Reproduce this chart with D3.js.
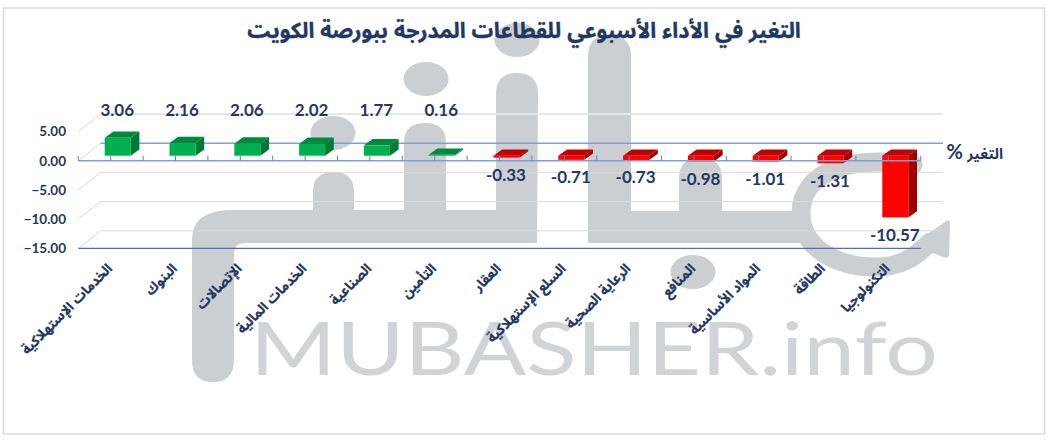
<!DOCTYPE html>
<html lang="ar">
<head>
<meta charset="utf-8">
<script src="https://cdn.jsdelivr.net/npm/d3@7"></script>
<style>
html,body{margin:0;padding:0;background:#fff;overflow:hidden}
svg{display:block}
</style>
</head>
<body>
<svg id="c" width="1050" height="444"></svg>
<script>
const titleText = "التغير في الأداء الأسبوعي للقطاعات المدرجة ببورصة الكويت";
const axisTitle = "التغير";
const categories = ["الخدمات الإستهلاكية","البنوك","الإتصالات","الخدمات المالية","الصناعية","التأمين","العقار","السلع الإستهلاكية","الرعاية الصحية","المنافع","المواد الأساسية","الطاقة","التكنولوجيا"];
const values = [3.06,2.16,2.06,2.02,1.77,0.16,-0.33,-0.71,-0.73,-0.98,-1.01,-1.31,-10.57];
const yTicks = [5,0,-5,-10,-15];

const navy = "#1F3864", arabic = "'Liberation Sans','Noto Sans Arabic','DejaVu Sans',sans-serif", latin = "Lato,'Open Sans',sans-serif";
const svg = d3.select("#c");
const x = d3.scaleBand().domain(categories).range([78.3,920.7]);
const y = d3.scaleLinear().domain([-15,5]).range([248.3,131.5]);
const wallDx = 22.4, wallDy = -17.5, barDx = 8.7, barDy = -6.3, barLift = 5, barInset = 26.4, barW = 26;

// watermark
const wm = svg.append("g").attr("fill","#CBCFD2");
wm.append("path").attr("d",
 "M192,360 L192,240 Q192,210 232,210 L313,210 L313,192 Q313,172 334,172 Q354,172 354,192 L354,210 L404,210 L404,143 Q404,123 425,123 Q446,123 446,143 L446,210 L496,210 L496,94 Q496,73 517,73 Q538,73 538,94 L537,243 L245,243 Q234,243 234,254 L234,360 Q234,382 213,382 Q192,382 192,360 Z");
wm.append("path").attr("d",
 "M588,243 L588,56 Q588,35 609,35 Q631,35 631,56 L631,211 L679,211 L679,178 Q679,158 700,158 Q722,158 722,178 L722,211 L800,211 L820,243 Z");
[[426,79],[517,40],[333,133],[693,272]].forEach(d=>wm.append("ellipse").attr("cx",d[0]).attr("cy",d[1]).attr("rx",22.5).attr("ry",17));
wm.append("path").attr("fill","none").attr("stroke","#CBCFD2").attr("stroke-width",19).attr("stroke-linecap","round")
 .attr("d","M913,165 C850,155 801,172 801,213 C801,250 840,267 875,267 C900,267 915,258 930,242");
wm.append("path").attr("d","M948,220 Q950,220 950,225 L949,255 Q948,259 943,257 L912,245 Q930,232 948,220 Z");
wm.append("text").attr("x",250).attr("y",375).attr("font-family",latin).attr("font-size",74).attr("fill","#D0D4D7")
 .attr("textLength",688).attr("lengthAdjust","spacingAndGlyphs").attr("direction","ltr").attr("unicode-bidi","bidi-override").text("MUBASHER.info");

// frame
svg.append("rect").attr("x",3.5).attr("y",8).attr("width",1041).attr("height",426).attr("fill","none").attr("stroke","#d9d9d9").attr("stroke-width",1.5);

// walls and gridlines
const x0 = x.range()[0], x1 = x.range()[1];
const grid = svg.append("g");
yTicks.forEach(t=>{
  const py = y(t);
  grid.append("line").attr("x1",x0).attr("y1",py).attr("x2",x0+wallDx).attr("y2",py+wallDy).attr("stroke","#d9d9d9").attr("stroke-width",1);
  grid.append("line").attr("x1",x0+wallDx).attr("y1",py+wallDy).attr("x2",x1+wallDx).attr("y2",py+wallDy)
    .attr("stroke",t===0?"#7f9fdb":t===5?"#e7e7e7":"#d9d9d9").attr("stroke-width",t===5?2:t===0?1.5:1);
});

// bars
const col = v=>v>=0?{f:"#00B050",t:"#008A3C",s:"#007A35"}:{f:"#FF0000",t:"#C00000",s:"#A00000"};
const bars = svg.append("g").selectAll("g").data(categories.map((c,i)=>({c,v:values[i]}))).join("g");
const bx = d=>x(d.c)+barInset, hiY = d=>y(Math.max(d.v,0))-barLift, loY = d=>y(Math.min(d.v,0))-barLift;
bars.append("path").attr("fill",d=>col(d.v).t).attr("d",d=>{
  const a=bx(d),t=hiY(d);return `M${a},${t}L${a+barDx},${t+barDy}L${a+barW+barDx},${t+barDy}L${a+barW},${t}Z`;});
bars.append("path").attr("fill",d=>col(d.v).s).attr("d",d=>{
  const a=bx(d)+barW,t=hiY(d),b=loY(d);return `M${a},${t}L${a+barDx},${t+barDy}L${a+barDx},${b+barDy}L${a},${b}Z`;});
bars.append("rect").attr("fill",d=>col(d.v).f).attr("x",bx).attr("y",hiY).attr("width",barW).attr("height",d=>loY(d)-hiY(d));

// category axis line and ticks
const ax = svg.append("g");
ax.append("line").attr("x1",x0).attr("x2",x1).attr("y1",y(0)).attr("y2",y(0)).attr("stroke","#7f9fdb").attr("stroke-width",1.6);
ax.append("line").attr("x1",x0).attr("x2",x1).attr("y1",y(-15)).attr("y2",y(-15)).attr("stroke","#4472C4").attr("stroke-width",1.3);
const tickPos = [x0].concat(categories.flatMap(c=>[x(c)+x.bandwidth()/2,x(c)+x.bandwidth()]));
ax.selectAll("line.t").data(tickPos).join("line").attr("class","t").attr("x1",d=>d).attr("x2",d=>d)
  .attr("y1",y(0)).attr("y2",y(0)-5).attr("stroke","#5b82cc").attr("stroke-width",1);

// y axis
const yAxis = svg.append("g").attr("transform","translate(66,0)").call(d3.axisLeft(y).tickValues(yTicks).tickSize(0).tickPadding(0).tickFormat(d3.format(".2f")));
yAxis.select(".domain").remove();
yAxis.selectAll("text").attr("direction","ltr").attr("font-family",latin).attr("font-weight",700).attr("font-size",13.5).attr("fill",navy);

// data labels
svg.append("g").selectAll("text").data(categories.map((c,i)=>({c,v:values[i]}))).join("text")
  .attr("x",d=>bx(d)+barW/2-0.5)
  .attr("y",d=>d.v>=0?110:y(d.v)-barLift+17.5)
  .attr("dy","0.35em").attr("text-anchor","middle").attr("direction","ltr")
  .attr("font-family",latin).attr("font-weight",700).attr("font-size",17).attr("fill",navy)
  .text(d=>d.v.toFixed(2));

// category labels
svg.append("g").selectAll("text").data(categories).join("text")
  .attr("transform",c=>`translate(${x(c)+barInset+barW/2-8},266) rotate(-45)`)
  .attr("direction","rtl").attr("text-anchor","start").attr("dy","0.35em")
  .attr("font-family",arabic).attr("font-weight",700).attr("font-size",13.6).attr("fill",navy)
  .attr("stroke",navy).attr("stroke-width",0.2)
  .text(c=>c);

// titles
svg.append("text").attr("x",524).attr("y",30).attr("dy","0.35em").attr("text-anchor","middle").attr("direction","rtl")
  .attr("font-family",arabic).attr("font-weight",700).attr("font-size",21.6).attr("fill",navy)
  .attr("stroke",navy).attr("stroke-width",0.35).text(titleText);
const at = svg.append("text").attr("x",1003).attr("y",153).attr("dy","0.35em").attr("direction","rtl").attr("text-anchor","start").attr("fill",navy).attr("font-weight",700);
at.append("tspan").attr("font-family",arabic).attr("font-size",15).text(axisTitle+" ");
at.append("tspan").attr("font-family",latin).attr("font-size",20).text("%");
</script>
</body>
</html>
